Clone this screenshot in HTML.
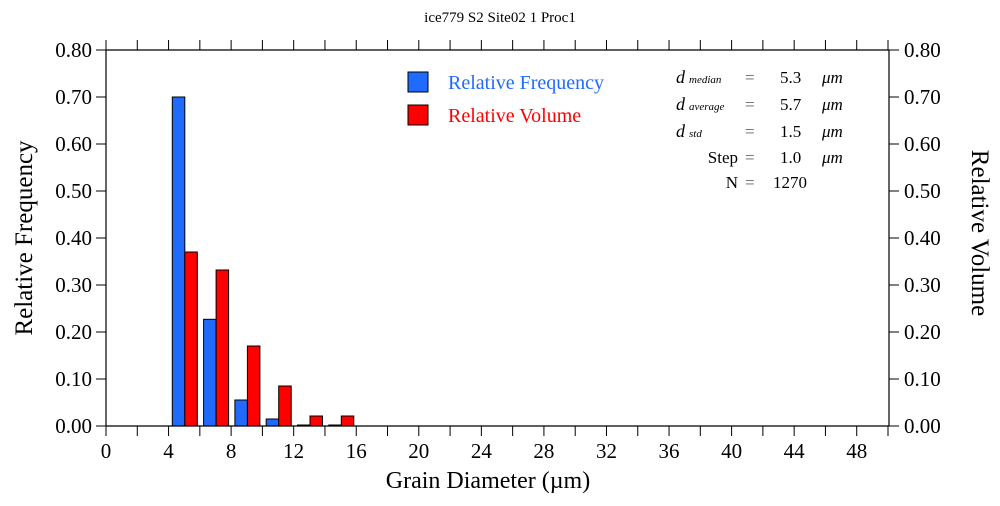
<!DOCTYPE html>
<html><head><style>body{margin:0;background:#fff} svg text{font-family:"Liberation Serif",serif}</style></head><body>
<svg width="1000" height="501" xmlns="http://www.w3.org/2000/svg" font-family="'Liberation Serif', serif">
<rect width="1000" height="501" fill="#fff"/>
<text x="500" y="22" font-size="15" text-anchor="middle">ice779 S2 Site02 1 Proc1</text>
<g id="bars" stroke="#000" stroke-width="1">
<rect x="172.3" y="97" width="12.5" height="329" fill="#1f6bff"/>
<rect x="184.8" y="252" width="12.5" height="174" fill="#ff0000"/>
<rect x="203.6" y="319.3" width="12.5" height="106.7" fill="#1f6bff"/>
<rect x="216.1" y="270" width="12.5" height="156" fill="#ff0000"/>
<rect x="234.9" y="400" width="12.5" height="26" fill="#1f6bff"/>
<rect x="247.4" y="346" width="12.5" height="80" fill="#ff0000"/>
<rect x="266.2" y="419" width="12.5" height="7" fill="#1f6bff"/>
<rect x="278.7" y="386" width="12.5" height="40" fill="#ff0000"/>
<rect x="297.5" y="425" width="12.5" height="1" fill="#1f6bff"/>
<rect x="310.0" y="416" width="12.5" height="10" fill="#ff0000"/>
<rect x="328.8" y="425" width="12.5" height="1" fill="#1f6bff"/>
<rect x="341.3" y="416" width="12.5" height="10" fill="#ff0000"/>
</g>
<g stroke="#000" stroke-width="1.2" fill="none">
<line x1="106" y1="50" x2="889" y2="50"/>
<line x1="106" y1="426" x2="889" y2="426"/>
<line x1="106" y1="50" x2="106" y2="426"/>
<line x1="889" y1="50" x2="889" y2="426"/>
</g>
<g stroke="#000" stroke-width="1" id="ticks"></g>
<g font-size="21" id="labels"></g>
<text x="488" y="488" font-size="24" text-anchor="middle">Grain Diameter (µm)</text>
<text transform="translate(32,238) rotate(-90)" font-size="25" text-anchor="middle">Relative Frequency</text>
<text transform="translate(972,233) rotate(90)" font-size="25" text-anchor="middle">Relative Volume</text>
<rect x="408" y="72" width="20" height="20" fill="#1f6bff" stroke="#000"/>
<text x="448" y="89" font-size="20" fill="#1f6bff">Relative Frequency</text>
<rect x="408" y="105" width="20" height="20" fill="#ff0000" stroke="#000"/>
<text x="448" y="122" font-size="20" fill="#ff0000">Relative Volume</text>
<g font-size="17">
<text x="676" y="83" font-style="italic" font-size="18">d<tspan font-size="11" dx="4">median</tspan></text>
<text x="676" y="110" font-style="italic" font-size="18">d<tspan font-size="11" dx="4">average</tspan></text>
<text x="676" y="137" font-style="italic" font-size="18">d<tspan font-size="11" dx="4">std</tspan></text>
<text x="738" y="163" text-anchor="end">Step</text>
<text x="738" y="188" text-anchor="end">N</text>
<g fill="#666"><text x="745" y="83">=</text><text x="745" y="110">=</text><text x="745" y="137">=</text><text x="745" y="163">=</text><text x="745" y="188">=</text></g>
<text x="780" y="83">5.3</text><text x="780" y="110">5.7</text><text x="780" y="137">1.5</text><text x="780" y="163">1.0</text><text x="773" y="188">1270</text>
<g font-style="italic"><text x="822" y="83">μm</text><text x="822" y="110">μm</text><text x="822" y="137">μm</text><text x="822" y="163">μm</text></g>
</g>
<script>
var t=document.getElementById('ticks'),l=document.getElementById('labels'),ns='http://www.w3.org/2000/svg';
function ln(a,b,c,d){var e=document.createElementNS(ns,'line');e.setAttribute('x1',a);e.setAttribute('y1',b);e.setAttribute('x2',c);e.setAttribute('y2',d);t.appendChild(e);}
function tx(x,y,s,an){var e=document.createElementNS(ns,'text');e.setAttribute('x',x);e.setAttribute('y',y);e.setAttribute('text-anchor',an);e.textContent=s;l.appendChild(e);}
for(var v=0;v<=50;v+=2){var x=106+v*15.64;ln(x,426,x,436);ln(x,50,x,40);if(v%4==0&&v<=48)tx(x,458,''+v,'middle');}
for(var i=0;i<=8;i++){var y=426-i*47;ln(106,y,96,y);ln(889,y,899,y);var s=(i/10).toFixed(2);tx(92,y+7,s,'end');tx(904,y+7,s,'start');}
</script>
</svg>
</body></html>
